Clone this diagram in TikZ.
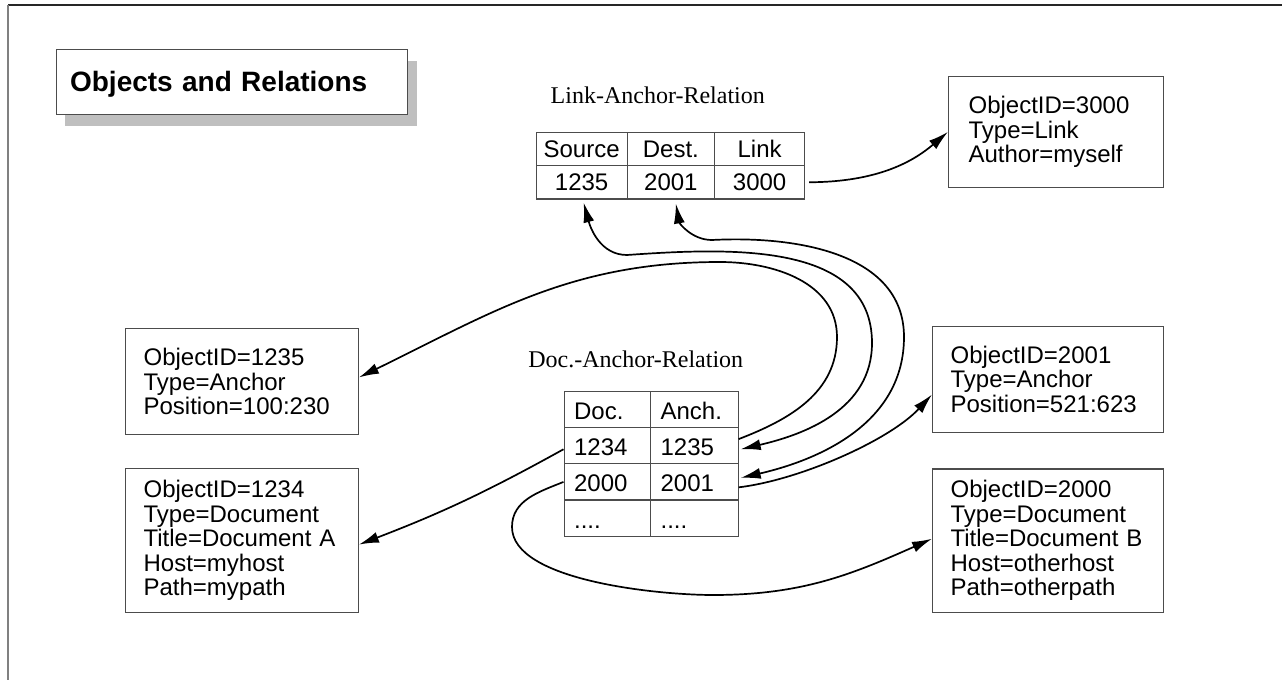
\documentclass[tikz,border=0pt]{standalone}
\usepackage{fontspec}
\setmainfont{Liberation Sans}
\newfontfamily\labelfont{Liberation Serif}
\usetikzlibrary{arrows.meta}
\begin{document}
\begin{tikzpicture}[x=0.5pt,y=-0.5pt,
  box/.style={draw=black!70, line width=0.6pt, anchor=north west, inner ysep=0pt,
    align=left, fill=white, font=\fontsize{12}{12.25}\selectfont},
  lacell/.style={draw=black!70, line width=0.6pt, anchor=north west, inner sep=0pt,
    minimum height=16.65pt, text height=8.6pt, text depth=0pt, font=\fontsize{12}{14}\selectfont},
  dacell/.style={draw=black!70, line width=0.6pt, anchor=north west, inner ysep=0pt, inner xsep=5pt,
    minimum height=18.125pt, text height=10pt, text depth=0pt, align=left, font=\fontsize{12}{14}\selectfont},
  rellabel/.style={font=\labelfont\fontsize{12}{14}\selectfont, anchor=base, inner sep=0pt},
  tip/.tip={Latex[length=10pt,width=5.5pt]},
  conn/.style={line width=0.85pt, -tip},
  biconn/.style={line width=0.85pt, tip-tip}
]
\useasboundingbox (0,0) rectangle (1282,680);
\fill[white] (0,0) rectangle (1282,680);
% frame
\draw[line width=0.9pt, black!85] (8,5) -- (1282,5);
\draw[line width=0.9pt, black!50] (8,5) -- (8,680);

% title with shadow
\fill[black!25] (65,61) rectangle (416.5,125.5);
\node[box, minimum height=32.25pt, inner xsep=6.75pt, text width=162pt, text depth=0pt,
  font=\bfseries\fontsize{14}{16}\selectfont] (title) at (56,49) {Objects and Relations};

% Link-Anchor-Relation
\node[rellabel] (lalabel) at (657.8,104) {Link-Anchor-Relation};
\node[lacell, minimum width=45.5pt]  (laSrc) at (535.5,131.7) {Source};
\node[lacell, minimum width=43.75pt] (laDst) at (626.5,131.7) {Dest.};
\node[lacell, minimum width=45pt]    (laLnk) at (714,131.7) {Link};
\node[lacell, minimum width=45.5pt]  (laS) at (535.5,165) {1235};
\node[lacell, minimum width=43.75pt] (laD) at (626.5,165) {2001};
\node[lacell, minimum width=45pt]    (laL) at (714,165) {3000};

% Doc.-Anchor-Relation
\node[rellabel] (dalabel) at (635.8,367.4) {Doc.-Anchor-Relation};
\node[dacell, text width=33.25pt] (daDoc)  at (563.5,390.7) {Doc.};
\node[dacell, text width=33.75pt] (daAnch) at (650,390.7) {Anch.};
\node[dacell, text width=33.25pt] (da1234) at (563.5,426.95) {1234};
\node[dacell, text width=33.75pt] (da1235) at (650,426.95) {1235};
\node[dacell, text width=33.25pt] (da2000) at (563.5,463.2) {2000};
\node[dacell, text width=33.75pt] (da2001) at (650,463.2) {2001};
\node[dacell, text width=33.25pt] (daDotA) at (563.5,499.45) {....};
\node[dacell, text width=33.75pt] (daDotB) at (650,499.45) {....};

% object boxes
\node[box, minimum height=55.25pt, inner xsep=10pt, text width=87.5pt] (o3000) at (948,76)
  {ObjectID=3000\\Type=Link\\Author=myself};
\node[box, minimum height=53.15pt, inner xsep=9pt, text width=98.35pt] (o1235) at (125,327.7)
  {ObjectID=1235\\Type=Anchor\\Position=100:230};
\node[box, minimum height=72pt, inner xsep=9pt, text width=98.35pt] (o1234) at (125,468)
  {ObjectID=1234\\Type=Document\\Title=Document A\\Host=myhost\\Path=mypath};
\node[box, minimum height=53pt, inner xsep=9pt, text width=97.5pt] (o2001) at (932,325.7)
  {ObjectID=2001\\Type=Anchor\\Position=521:623};
\node[box, minimum height=71.85pt, inner xsep=9pt, text width=97.5pt] (o2000) at (932,468.3)
  {ObjectID=2000\\Type=Document\\Title=Document B\\Host=otherhost\\Path=otherpath};

% waypoints
\coordinate (wa1) at (837,337);
\coordinate (wa2) at (720,262);
\coordinate (wb1) at (627,255);
\coordinate (wb2) at (872,343);
\coordinate (wc1) at (712,240);
\coordinate (wc2) at (904,337);
\coordinate (wf1) at (512,527);
\coordinate (wf2) at (713,595);

% connectors
\draw[conn] ([xshift=2pt]laL.east) .. controls (880,182) and (915,160) .. (o3000.west);
\draw[conn] ([yshift=3.3pt]da1235.east) to[out=21,in=270] (wa1) to[out=90,in=0] (wa2)
  to[out=180,in=26] ([yshift=2pt]o1235.east);
\draw[biconn] ([xshift=1pt,yshift=-1.5pt]laS.south) to[out=285,in=180] (wb1)
  to[out=4,in=90] (wb2) to[out=270,in=13] ([xshift=1pt,yshift=-1.8pt]da1235.east);
\draw[biconn] ([xshift=2.5pt,yshift=-2pt]laD.south) to[out=280,in=180] (wc1)
  to[out=3,in=90] (wc2) to[out=270,in=13] ([xshift=1pt,yshift=2pt]da2001.east);
\draw[conn] ([yshift=-2.7pt]da2001.east) .. controls (800,480) and (890,440) .. ([yshift=-7.6pt]o2001.west);
\draw[conn] ([yshift=-1.8pt]da1234.west) to[bend left=4] ([yshift=-2pt]o1234.east);
\draw[conn] (da2000.west) to[out=202,in=90] (wf1) to[out=270,in=180,looseness=0.65] (wf2)
  to[out=0,in=204] ([yshift=1pt]o2000.west);
\end{tikzpicture}
\end{document}
